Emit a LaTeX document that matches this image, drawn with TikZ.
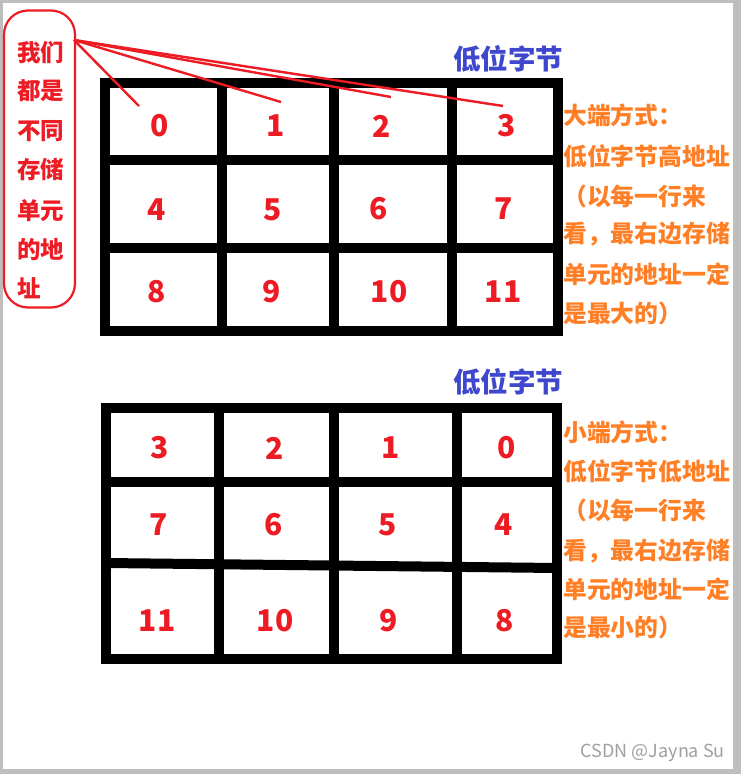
\documentclass[tikz,border=0pt]{standalone}
\usepackage{fontspec}
\setmainfont{Noto Sans CJK SC}
\definecolor{numred}{HTML}{ED1C24}
\definecolor{lblblue}{HTML}{3F48CC}
\definecolor{noteorange}{HTML}{FF7F27}
\definecolor{wmgray}{HTML}{A0A0A0}
\definecolor{framegray}{HTML}{BEBEBE}
\tikzset{
  gridline/.style={line width=10pt},
  num/.style={text=numred, font=\bfseries\fontsize{30}{30}\selectfont, inner sep=0pt},
  lowbyte/.style={text=lblblue, font=\bfseries\fontsize{27.5}{28}\selectfont, inner sep=0pt},
  note/.style={text=noteorange, font=\bfseries\fontsize{23.8}{24}\selectfont, inner sep=0pt, anchor=west},
  addrtxt/.style={text=numred, font=\bfseries\fontsize{23.5}{24}\selectfont, inner sep=0pt, anchor=west},
  addrbox/.style={draw=numred, line width=2.2pt, rounded corners=24pt, minimum width=71pt, minimum height=297pt, inner sep=0pt},
  pointer/.style={draw=numred, line width=2.4pt},
}
\begin{document}
\begin{tikzpicture}[x=1pt,y=-1pt]
\fill[framegray] (0,0) rectangle (741,774);
\fill[white] (3,3) rectangle (733,769);
\useasboundingbox (0,0) rectangle (741,774);

% ---- top grid (big endian)
\draw[gridline] (105,83) rectangle (558,331);
\draw[gridline] (222,83) -- (222,331);
\draw[gridline] (334,83) -- (334,331);
\draw[gridline] (452,83) -- (452,331);
\draw[gridline] (105,160) -- (558,160);
\draw[gridline] (105,248) -- (558,248);

\node[num] (t0) at (160,126) {0};
\node[num] (t1) at (276,126) {1};
\node[num] (t2) at (382,126) {2};
\node[num] (t3) at (507,126) {3};
\node[num] (t4) at (157,210) {4};
\node[num] (t5) at (273,210) {5};
\node[num] (t6) at (379,209) {6};
\node[num] (t7) at (504,209) {7};
\node[num] (t8) at (157,292) {8};
\node[num] (t9) at (272,292) {9};
\node[num] (t10) at (389,292) {10};
\node[num] (t11) at (503,292) {11};

% ---- bottom grid (little endian)
\draw[gridline] (106,408) rectangle (557,659);
\draw[gridline] (219,408) -- (219,659);
\draw[gridline] (334,408) -- (334,659);
\draw[gridline] (457,408) -- (457,659);
\draw[gridline] (106,482) -- (557,482);
\draw[gridline] (106,563) -- (557,568);

\node[num] (b3) at (160,448) {3};
\node[num] (b2) at (275,448) {2};
\node[num] (b1) at (391,448) {1};
\node[num] (b0) at (507,448) {0};
\node[num] (b7) at (159,525) {7};
\node[num] (b6) at (274,525) {6};
\node[num] (b5) at (388,525) {5};
\node[num] (b4) at (504,525) {4};
\node[num] (b11) at (157,621) {11};
\node[num] (b10) at (275,621) {10};
\node[num] (b9) at (389,621) {9};
\node[num] (b8) at (505,621) {8};

% ---- blue labels
\node[lowbyte] (lbtop) at (508,59) {低位字节};
\node[lowbyte] (lbbot) at (508,382) {低位字节};

% ---- orange notes
\node[note] (n1) at (563,115) {大端方式：};
\node[note] (n2) at (563,156) {低位字节高地址};
\node[note] (n3) at (563,196) {（以每一行来};
\node[note] (n4) at (563,234) {看，最右边存储};
\node[note] (n5) at (563,274) {单元的地址一定};
\node[note] (n6) at (563,313) {是最大的）};

\node[note] (m1) at (563,432) {小端方式：};
\node[note] (m2) at (563,471) {低位字节低地址};
\node[note] (m3) at (563,510) {（以每一行来};
\node[note] (m4) at (563,551) {看，最右边存储};
\node[note] (m5) at (563,589) {单元的地址一定};
\node[note] (m6) at (563,627) {是最小的）};

% ---- address box
\node[addrbox] (abox) at (39.5,159) {};
\node[addrtxt] (a1) at (17,53) {我们};
\node[addrtxt] (a2) at (17,91) {都是};
\node[addrtxt] (a3) at (17,131) {不同};
\node[addrtxt] (a4) at (17,170) {存储};
\node[addrtxt] (a5) at (17,211) {单元};
\node[addrtxt] (a6) at (17,250) {的地};
\node[addrtxt] (a7) at (17,288) {址};

\coordinate (apex) at (74,40);
\coordinate (p0) at (139,106);
\coordinate (p1) at (281,102);
\coordinate (p2) at (391,97);
\coordinate (p3) at (503,106);
\draw[pointer] (apex) -- (p0);
\draw[pointer] (apex) -- (p1);
\draw[pointer] (apex) -- (p2);
\draw[pointer] (apex) -- (p3);

% ---- watermark
\node[text=wmgray, font=\fontsize{18}{18}\selectfont, inner sep=0pt, anchor=east] (wm) at (725,753) {CSDN @Jayna Su};
\end{tikzpicture}
\end{document}
